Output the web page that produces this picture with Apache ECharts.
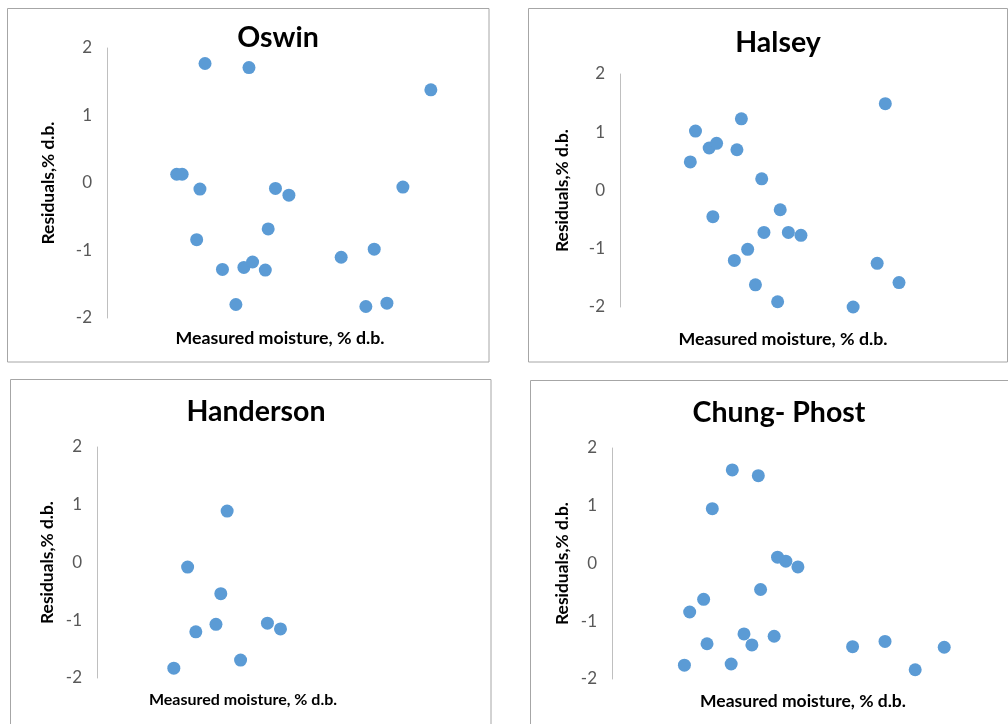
<!DOCTYPE html>
<html>
<head>
<meta charset="utf-8">
<script src="https://cdn.jsdelivr.net/npm/echarts@6/dist/echarts.min.js"></script>
<style>html,body{margin:0;padding:0;background:#fff}#c{width:1008px;height:724px}</style>
</head>
<body>
<div id="c"></div>
<script>
const titles = ['Oswin', 'Halsey', 'Handerson', 'Chung- Phost'];
const yTicks = [-2, -1, 0, 1, 2];
const xName = 'Measured moisture, % d.b.';
const yName = 'Residuals,% d.b.';

const oswinX = [27.0, 39.1, 89.2, 19.2, 20.7, 25.6, 46.4, 50.1, 81.5, 24.7, 44.4, 73.6, 64.5, 31.8, 37.7, 40.1, 43.6, 35.5, 71.3, 77.1];
const oswinY = [1.77, 1.71, 1.38, 0.13, 0.13, -0.09, -0.08, -0.18, -0.06, -0.84, -0.68, -0.98, -1.10, -1.28, -1.25, -1.17, -1.29, -1.80, -1.83, -1.78];

const halseyX = [71.7, 20.4, 32.8, 24.1, 26.1, 31.6, 19.0, 38.3, 25.1, 43.3, 38.9, 45.5, 48.9, 34.5, 30.9, 69.5, 75.4, 36.6, 42.6, 63.0];
const halseyY = [1.49, 1.02, 1.23, 0.73, 0.81, 0.70, 0.49, 0.20, -0.45, -0.33, -0.72, -0.72, -0.77, -1.01, -1.20, -1.25, -1.58, -1.62, -1.91, -2.00];

const handersonX = [34.9, 24.3, 33.2, 31.9, 26.5, 45.7, 49.2, 38.5, 20.6];
const handersonY = [0.89, -0.08, -0.54, -1.07, -1.20, -1.05, -1.15, -1.69, -1.83];

const chungX = [31.9, 38.8, 26.6, 43.9, 46.1, 49.3, 39.4, 24.3, 20.6, 35.0, 43.0, 25.2, 37.1, 63.8, 72.4, 88.1, 80.4, 19.2, 31.6];
const chungY = [1.62, 1.52, 0.95, 0.11, 0.04, -0.06, -0.45, -0.62, -0.84, -1.22, -1.26, -1.39, -1.41, -1.44, -1.35, -1.45, -1.84, -1.76, -1.74];

const seriesX = [oswinX, halseyX, handersonX, chungX];
const seriesY = [oswinY, halseyY, handersonY, chungY];

const layout = [
  {grid: {left: 107, top: 48, width: 346, height: 270}, xMax: 95.3, xGap: 11, xSize: 17.8, yGap: 50, title: {left: 273, top: 18}},
  {grid: {left: 620, top: 74, width: 326, height: 233}, xMax: 88.1, xGap: 23, xSize: 17.8, yGap: 49, title: {left: 773, top: 23}},
  {grid: {left: 97, top: 447, width: 292, height: 231}, xMax: 78.3, xGap: 14, xSize: 16, yGap: 41, title: {left: 251, top: 392}},
  {grid: {left: 612, top: 448, width: 382, height: 231}, xMax: 101.3, xGap: 13, xSize: 17.5, yGap: 41, title: {left: 774, top: 393}}
];
const borders = [[7.5, 8.5, 481.5, 353.5], [528.5, 8.5, 479, 353.5], [10.5, 379.5, 480.5, 360], [530.5, 380.5, 490, 360]];

const font = 'Lato, "Open Sans", sans-serif';
const option = {
  backgroundColor: '#fff',
  animation: false,
  title: titles.map((t, i) => ({
    text: t, left: layout[i].title.left, top: layout[i].title.top, textAlign: 'center',
    textStyle: {fontFamily: font, fontSize: 28.5, fontWeight: 'bold', color: '#000'}
  })),
  grid: layout.map(l => l.grid),
  xAxis: layout.map((l, i) => ({
    gridIndex: i, type: 'value', min: 0, max: l.xMax,
    name: xName, nameLocation: 'middle', nameGap: l.xGap,
    nameTextStyle: {fontFamily: font, fontSize: l.xSize, fontWeight: 'bold', color: '#000'},
    axisLine: {show: false}, axisTick: {show: false}, axisLabel: {show: false}, splitLine: {show: false}
  })),
  yAxis: layout.map((l, i) => ({
    gridIndex: i, type: 'value', min: yTicks[0], max: yTicks[yTicks.length - 1], interval: 1,
    name: yName, nameLocation: 'middle', nameGap: l.yGap,
    nameTextStyle: {fontFamily: font, fontSize: 17.4, fontWeight: 'bold', color: '#000'},
    axisLine: {show: true, lineStyle: {color: '#bfbfbf', width: 1}},
    axisTick: {show: false},
    axisLabel: {fontFamily: font, fontSize: 17, color: '#595959', margin: 15},
    splitLine: {show: false}
  })),
  series: seriesX.map((xs, i) => ({
    type: 'scatter', xAxisIndex: i, yAxisIndex: i,
    symbolSize: 13,
    itemStyle: {color: '#5b9bd5', opacity: 1},
    data: xs.map((x, j) => [x, seriesY[i][j]])
  })),
  graphic: borders.map(b => ({
    type: 'rect', shape: {x: b[0], y: b[1], width: b[2], height: b[3]},
    style: {fill: 'none', stroke: '#a6a6a6', lineWidth: 1}, silent: true
  }))
};
echarts.init(document.getElementById('c'), null, {renderer: 'canvas'}).setOption(option);
</script>
</body>
</html>
